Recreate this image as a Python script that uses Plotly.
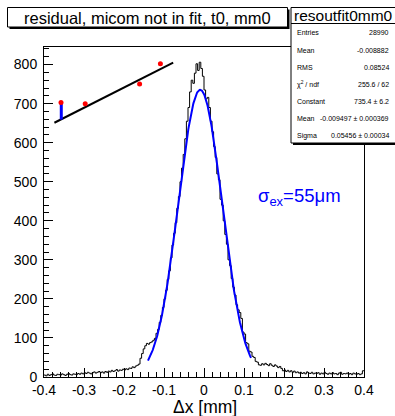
import numpy as np
import plotly.graph_objects as go

# ---------------- data ----------------
bin_lo, bin_hi, n_bins = -0.4, 0.4, 200
counts = [
    5, 3, 7, 4, 6, 8, 5, 4, 7, 6,
    5, 8, 6, 4, 7, 9, 6, 5, 8, 7,
    6, 9, 7, 10, 8, 11, 9, 12, 10, 8,
    11, 13, 10, 12, 14, 11, 13, 10, 14, 12,
    15, 13, 17, 14, 16, 19, 15, 18, 17, 20,
    18, 21, 19, 23, 22, 26, 24, 28, 30, 33,
    48, 60, 72, 80, 86, 84, 88, 90, 94, 99,
    112, 122, 140, 158, 178, 200, 222, 250, 272, 305,
    338, 368, 395, 432, 462, 500, 535, 570, 610, 655,
    690, 730, 760, 752, 778, 802, 785, 806, 790, 770,
    735, 712, 716, 690, 655, 628, 590, 562, 520, 505,
    455, 440, 400, 365, 340, 300, 285, 252, 230, 210,
    185, 172, 165, 150, 115, 110, 88, 85, 66, 64,
    53, 50, 40, 38, 31, 30, 34, 31, 35, 32,
    29, 34, 30, 27, 31, 28, 24, 27, 22, 16,
    18, 14, 17, 13, 16, 12, 15, 11, 13, 10,
    12, 9, 11, 8, 13, 10, 9, 12, 8, 10,
    9, 11, 7, 10, 8, 12, 9, 7, 10, 8,
    11, 8, 9, 6, 10, 12, 7, 9, 8, 10,
    7, 9, 6, 10, 8, 7, 9, 6, 8, 16,
]

fit_const, fit_mean, fit_sigma = 735.4, -0.009497, 0.05456
fit_lo, fit_hi = -0.14, 0.1175

inset_pts_x = [-0.3575, -0.297, -0.161, -0.109]
inset_pts_y = [703, 700, 750, 802]
inset_line_x = [-0.374, -0.077]
inset_line_y = [651, 805]
inset_bar_x = [-0.3568, -0.3568]
inset_bar_y = [659, 703]

x_tickvals = [-0.4, -0.3, -0.2, -0.1, 0, 0.1, 0.2, 0.3, 0.4]
x_ticktext = ["-0.4", "-0.3", "-0.2", "-0.1", "0", "0.1", "0.2", "0.3", "0.4"]
y_tickvals = [0, 100, 200, 300, 400, 500, 600, 700, 800]
y_ticktext = ["0", "100", "200", "300", "400", "500", "600", "700", "800"]

title_text = "residual, micom not in fit, t0, mm0"
stats_name = "resoutfit0mm0"
stats_labels = ["Entries", "Mean", "RMS", "χ<sup>2</sup> / ndf", "Constant", "Mean", "Sigma"]
stats_values = ["28990", "-0.008882", "0.08524", "255.6 / 62", "735.4 ± 6.2",
                "-0.009497 ± 0.000369", "0.05456 ± 0.00034"]
x_title = "Δx [mm]"
note_text = "σ<sub>ex</sub>=55μm"

# ---------------- geometry ----------------
W, H = 395, 416
ML, MR, MT, MB = 44, 31, 47, 39
PW, PH = W - ML - MR, H - MT - MB
FONT = "Liberation Sans, Arial, Helvetica, sans-serif"


def fx(px):
    return (px - ML) / PW


def fy(py):
    return (H - MB - py) / PH


# ---------------- traces ----------------
edges = np.linspace(bin_lo, bin_hi, n_bins + 1)
step_y = list(counts) + [counts[-1]]

fig = go.Figure()
fig.add_trace(go.Scatter(x=edges, y=step_y, mode="lines", line_shape="hv",
                         line=dict(color="black", width=1), hoverinfo="skip"))

xf = np.linspace(fit_lo, fit_hi, 300)
yf = fit_const * np.exp(-0.5 * ((xf - fit_mean) / fit_sigma) ** 2)
fig.add_trace(go.Scatter(x=xf, y=yf, mode="lines",
                         line=dict(color="#0000ff", width=2)))

fig.add_trace(go.Scatter(x=inset_line_x, y=inset_line_y, mode="lines",
                         line=dict(color="black", width=2)))
fig.add_trace(go.Scatter(x=inset_bar_x, y=inset_bar_y, mode="lines",
                         line=dict(color="#0000ff", width=3)))
fig.add_trace(go.Scatter(x=inset_pts_x, y=inset_pts_y, mode="markers",
                         marker=dict(color="#ff0000", size=5)))

# ---------------- boxes ----------------
shapes = []


def box(x0, y0, x1, y1, sh=2):
    shapes.append(dict(type="rect", xref="paper", yref="paper",
                       x0=fx(x0 + sh), x1=fx(x1 + sh), y0=fy(y1 + sh), y1=fy(y0 + sh),
                       fillcolor="black", line=dict(width=0), layer="above"))
    shapes.append(dict(type="rect", xref="paper", yref="paper",
                       x0=fx(x0), x1=fx(x1), y0=fy(y1), y1=fy(y0),
                       fillcolor="white", line=dict(color="black", width=1), layer="above"))


box(7.5, 7.5, 287.5, 27)
box(291, 7.5, 398, 143)
shapes.append(dict(type="line", xref="paper", yref="paper",
                   x0=fx(291), x1=fx(398), y0=fy(23.5), y1=fy(23.5),
                   line=dict(color="black", width=1), layer="above"))

ann = []
ann.append(dict(text=title_text, x=fx(147.5), y=fy(17.5), xref="paper", yref="paper",
                showarrow=False, xanchor="center", yanchor="middle",
                font=dict(family=FONT, size=16.5, color="black")))
ann.append(dict(text=stats_name, x=fx(343), y=fy(15.5), xref="paper", yref="paper",
                showarrow=False, xanchor="center", yanchor="middle",
                font=dict(family=FONT, size=15.5, color="black")))
row_y = [33, 50.5, 67.5, 84.5, 101, 118.5, 135.5]
for lab, val, ry in zip(stats_labels, stats_values, row_y):
    ann.append(dict(text=lab, x=fx(295), y=fy(ry), xref="paper", yref="paper",
                    showarrow=False, xanchor="left", yanchor="middle",
                    font=dict(family=FONT, size=7, color="black")))
    ann.append(dict(text=val, x=fx(391), y=fy(ry), xref="paper", yref="paper",
                    showarrow=False, xanchor="right", yanchor="middle",
                    font=dict(family=FONT, size=7, color="black")))
ann.append(dict(text=x_title, x=fx(205), y=fy(407), xref="paper", yref="paper",
                showarrow=False, xanchor="center", yanchor="middle",
                font=dict(family=FONT, size=17.5, color="black")))
ann.append(dict(text=note_text, x=fx(343), y=fy(197), xref="paper", yref="paper",
                showarrow=False, xanchor="right", yanchor="middle",
                font=dict(family=FONT, size=18.5, color="#0000ff")))

fig.update_layout(
    width=W, height=H,
    margin=dict(l=ML, r=MR, t=MT, b=MB, pad=0),
    paper_bgcolor="white", plot_bgcolor="white",
    showlegend=False,
    shapes=shapes, annotations=ann,
    font=dict(family=FONT, color="black"),
    xaxis=dict(range=[bin_lo, bin_hi], tickmode="array", tickvals=x_tickvals,
               ticktext=x_ticktext, ticks="inside", ticklen=9, tickwidth=1,
               tickcolor="black", showgrid=False, zeroline=False,
               showline=True, linecolor="black", linewidth=1, mirror=True,
               tickfont=dict(family=FONT, size=14),
               minor=dict(ticks="inside", ticklen=5, tick0=0, dtick=0.02,
                          tickcolor="black", showgrid=False)),
    yaxis=dict(range=[0, 845], tickmode="array", tickvals=y_tickvals,
               ticktext=y_ticktext, ticks="inside", ticklen=9, tickwidth=1,
               tickcolor="black", showgrid=False, zeroline=False,
               showline=True, linecolor="black", linewidth=1, mirror=True,
               tickfont=dict(family=FONT, size=14), ticklabelstandoff=3,
               minor=dict(ticks="inside", ticklen=5, tick0=0, dtick=20,
                          tickcolor="black", showgrid=False)),
)

fig.write_html("out.html")
